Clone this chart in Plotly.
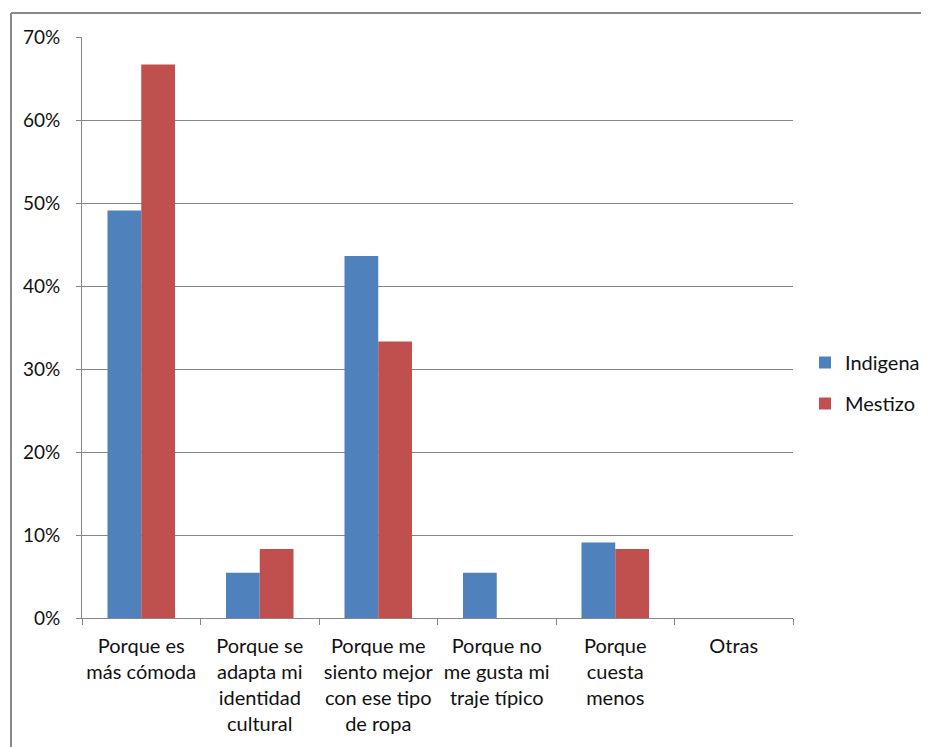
import plotly.graph_objects as go

categories = [
    "Porque es<br>más cómoda",
    "Porque se<br>adapta mi<br>identidad<br>cultural",
    "Porque me<br>siento mejor<br>con ese tipo<br>de ropa",
    "Porque no<br>me gusta mi<br>traje típico",
    "Porque<br>cuesta<br>menos",
    "Otras",
]
indigena = [0.491, 0.0545, 0.436, 0.0545, 0.091, 0.0]
mestizo = [0.667, 0.083, 0.333, 0.0, 0.083, 0.0]
y_ticks = [0, 0.1, 0.2, 0.3, 0.4, 0.5, 0.6, 0.7]

FONT = "Lato, Open Sans, sans-serif"
TXT = "#111111"

fig = go.Figure()
fig.add_trace(go.Bar(name="Indigena", x=categories, y=indigena, legendgroup="a",
                     marker=dict(color="#4F81BD", line=dict(width=0))))
fig.add_trace(go.Bar(name="Mestizo", x=categories, y=mestizo, legendgroup="b",
                     marker=dict(color="#C0504D", line=dict(width=0))))

OFF = 8  # page body margin
W, H = 929 - OFF, 747 - OFF
L, R, T, B = 82 - OFF, 793 - OFF, 37 - OFF, 618 - OFF
pw, ph = R - L, B - T

fig.update_layout(
    width=W, height=H,
    margin=dict(l=L, r=W - R, t=T, b=H - B, pad=0, autoexpand=False),
    paper_bgcolor="white", plot_bgcolor="white",
    barmode="group", bargap=0.43, bargroupgap=0,
    font=dict(family=FONT, size=20, color=TXT),
    showlegend=True,
    legend=dict(xref="container", yref="container", x=(805 - OFF) / W, y=1 - (343 - OFF) / H,
                xanchor="left", yanchor="top", traceorder="grouped",
                font=dict(size=20, family=FONT, color=TXT), tracegroupgap=12,
                itemwidth=30, bgcolor="rgba(0,0,0,0)"),
    xaxis=dict(type="category", showgrid=False, showline=True, linecolor="#868686", linewidth=1,
               ticks="outside", tickson="boundaries", ticklen=6, tickcolor="#868686",
               tickfont=dict(size=20, family=FONT, color=TXT), tickangle=0, fixedrange=True,
               ticklabelstandoff=10, automargin=False),
    yaxis=dict(range=[0, 0.7], tickvals=y_ticks, tickformat=".0%", showgrid=True, gridcolor="#868686",
               gridwidth=1, showline=True, linecolor="#868686", linewidth=1, ticks="outside",
               ticklen=5, tickcolor="#868686", zeroline=False, automargin=False,
               tickfont=dict(size=19, family=FONT, color=TXT), ticklabelstandoff=12),
    shapes=[
        dict(type="line", xref="paper", yref="paper", x0=(11 - 82) / pw, x1=(11 - 82) / pw,
             y0=(618 - 760) / ph, y1=(618 - 13) / ph, line=dict(color="#888888", width=2)),
        dict(type="line", xref="paper", yref="paper", x0=(11 - 82) / pw, x1=(940 - 82) / pw,
             y0=(618 - 13) / ph, y1=(618 - 13) / ph, line=dict(color="#888888", width=2)),
    ],
)

fig.write_html("out.html", config={"displayModeBar": False})
